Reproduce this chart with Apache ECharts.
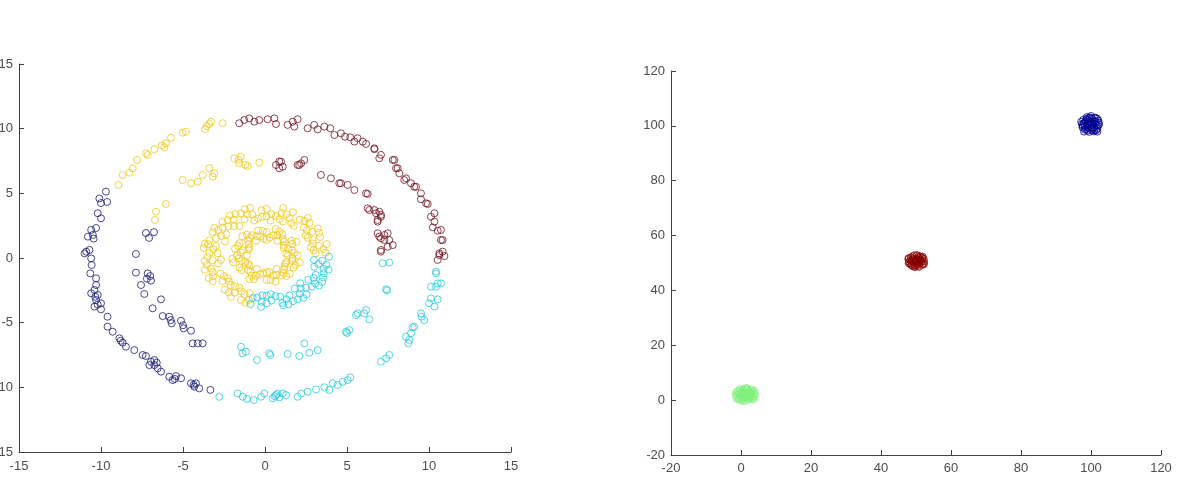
<!DOCTYPE html>
<html>
<head>
<meta charset="utf-8">
<script src="https://cdn.jsdelivr.net/npm/echarts@6/dist/echarts.min.js"></script>
<style>
  html, body { margin: 0; padding: 0; background: #fff; }
  #chart { width: 1182px; height: 497px; }
</style>
</head>
<body>
<div id="chart"></div>
<script>
// left panel: four clusters of ring data
const navyPts = [
  [-9.70,5.13],[-10.0,4.25],[-9.63,4.33],[-10.1,4.6],[-10.2,3.46],[-10.0,3.07],[-10.6,2.17],[-10.3,2.32],[-10.8,1.65],[-10.5,1.78],[-10.45,1.5],
  [-10.9,0.49],[-10.7,0.62],[-11.0,0.36],[-10.6,-0.03],[-10.57,-0.54],[-10.65,-1.19],[-10.3,-1.57],[-10.3,-2.09],[-10.4,-2.47],[-10.6,-2.73],
  [-10.2,-2.86],[-10.35,-3.0],[-10.3,-3.25],[-10.0,-3.5],[-10.2,-3.6],[-10.4,-3.76],[-10.0,-3.97],[-9.6,-4.54],[-9.6,-5.31],[-9.29,-5.7],
  [-8.88,-6.21],[-8.8,-6.4],[-8.68,-6.55],[-8.48,-6.86],[-7.97,-7.12],[-7.46,-7.5],[-7.26,-7.58],[-6.95,-8.02],[-6.75,-8.28],[-7.05,-8.28],
  [-6.6,-8.1],[-6.54,-8.53],[-6.34,-8.79],[-6.75,-7.89],[-5.84,-9.18],[-5.63,-9.44],[-5.5,-9.35],[-5.43,-9.13],[-5.12,-9.3],[-4.51,-9.69],
  [-4.31,-9.95],[-4.35,-9.8],[-4.21,-9.69],[-4.01,-10.08],[-3.33,-10.2],
  [-7.26,1.93],[-6.77,2.0],[-7.07,1.55],[-7.87,0.31],[-7.87,-1.13],[-7.15,-1.19],[-7.0,-1.4],[-7.2,-1.6],[-6.95,-1.75],[-7.56,-2.09],
  [-7.36,-2.78],[-6.34,-3.2],[-6.85,-3.89],[-6.24,-4.49],[-5.84,-4.54],[-5.75,-4.8],[-5.69,-5.05],[-5.12,-4.85],[-5.0,-5.2],[-4.96,-5.44],
  [-4.51,-5.62],[-4.41,-6.6],[-4.1,-6.6],[-3.8,-6.6]
];
const yellowPts = [
  [-8.94,5.65],[-8.68,6.42],[-8.27,6.6],[-8.07,6.93],[-7.8,7.58],[-7.25,8.1],[-7.15,7.97],[-6.75,8.41],[-6.3,8.7],[-6.14,8.56],[-6.04,8.87],
  [-5.73,9.3],[-5.02,9.69],[-4.82,9.77],[-3.66,9.95],[-3.55,10.2],[-3.4,10.36],[-3.29,10.54],[-2.58,10.42],
  [-1.87,7.71],[-1.6,7.6],[-1.46,7.84],[-1.57,7.32],[-1.2,7.2],[-1.05,7.11],[-0.35,7.37],[-5.02,6.03],[-4.51,5.78],[-4.1,5.9],[-3.8,6.42],
  [-3.4,6.94],[-3.09,6.55],[-3.19,6.29],[-6.65,3.58],[-6.04,4.18],[-6.71,2.94],
  // ring r~3.3
  [3.09,0.36],[3.69,0.41],[3.29,0.95],[2.80,0.83],[3.77,1.08],[2.91,1.41],[3.36,1.62],[2.88,2.05],[2.48,1.76],[3.21,2.28],[2.36,2.36],
  [2.72,2.72],[2.11,2.97],[1.76,2.48],[1.50,3.09],[1.71,3.54],[0.88,3.0],[1.01,3.48],[1.11,3.87],[0.39,3.39],[0.34,2.89],[-0.21,3.69],
  [-0.17,3.19],[-0.78,3.38],[-0.91,3.87],[-0.65,2.90],[-1.25,3.0],[-1.47,3.45],[-1.91,2.97],[-1.56,2.48],[-2.14,3.29],[-2.23,2.43],
  [-2.59,2.79],[-2.36,1.82],[-2.85,2.17],[-3.09,2.34],[-2.98,1.54],[-2.44,1.28],[-3.47,1.06],[-2.99,0.93],[-3.67,1.11],[-2.89,0.36],
  [-3.39,0.40],[-3.68,-0.23],[-3.19,-0.19],[-2.69,-0.14],[-3.28,-0.81],[-3.67,-0.91],[-2.71,-1.21],[-3.16,-1.42],[-3.43,-1.55],
  [-2.60,-1.79],[-2.28,-1.56],[-2.45,-2.45],[-2.09,-2.09],[-1.85,-2.68],[-2.08,-3.01],[-1.56,-2.28],[-1.25,-2.80],[-1.47,-3.25],[-0.98,-3.23],
  [3.55,0.71],[2.92,1.13],[3.30,1.95],[2.55,2.16],[2.41,2.86],[1.60,2.70],[1.30,3.39],[0.66,3.25],[0.10,3.80],[-0.42,3.06],[-1.10,3.39],
  [-1.80,3.39],[-1.89,2.47],[-2.58,2.35],[-2.67,1.70],[-3.38,1.37],[-3.15,0.67],[-3.50,0.10],[-2.86,-0.42],[-3.19,-1.10],[-3.19,-1.80],
  [-2.20,-1.83],[-2.21,-2.66],[-1.45,-2.58],[-1.20,-3.47],
  [2.96,0.60],[2.61,1.55],[2.61,3.09],[1.09,2.83],[0.10,3.20],[-1.23,3.77],[-2.28,2.93],[-3.19,2.0],[-3.74,0.78],[-3.54,-0.54],
  [-2.50,-1.40],[-1.83,-2.20],[-0.93,-2.72],
  // inner ring r~1.6
  [1.4,0.2],[2.0,0.2],[1.65,0.61],[1.14,0.8],[1.66,1.1],[1.92,1.25],[1.16,1.26],[0.75,1.33],[1.05,1.85],[0.51,1.75],[0.64,2.23],
  [0.1,1.4],[0.1,2.0],[-0.29,1.65],[-0.42,2.13],[-0.55,1.33],[-0.8,1.76],[-1.03,1.33],[-1.38,1.68],[-0.94,0.8],[-1.55,1.15],[-1.35,0.59],
  [-1.83,0.72],[-1.1,0.2],[-1.7,0.2],[-1.45,-0.21],[-1.93,-0.34],[-1.03,-0.45],[-1.55,-0.75],[-1.03,-0.93],[-0.5,-0.84],[-0.8,-1.36],
  [-0.95,-1.62],[-0.29,-1.25],[0.1,-1.1],[0.1,-1.7],[0.51,-1.35],[0.64,-1.83],[0.7,-0.84],[1.0,-1.36],[1.16,-0.86],[1.51,-1.21],
  [1.23,-0.45],[1.75,-0.75],[1.65,-0.21],[2.13,-0.34],
  [1.79,0.41],[1.40,0.73],[1.62,1.34],[1.09,1.46],[0.76,1.77],[0.29,1.59],[-0.13,2.09],[-0.50,1.68],[-0.92,1.56],[-1.00,1.06],[-1.65,0.94],
  [-1.48,0.42],[-1.59,-0.01],[-1.20,-0.33],[-1.42,-0.94],[-0.89,-1.06],[-0.56,-1.37],[-0.09,-1.19],[0.33,-1.69],[0.70,-1.28],[1.12,-1.16],
  [1.20,-0.66],[1.85,-0.54],[1.68,-0.02],
  [1.29,0.35],[1.14,0.98],[0.88,2.04],[-0.06,1.49],[-1.10,1.80],[-1.01,0.67],[-1.99,-0.06],[-0.94,-0.58],[-0.68,-1.64],[0.26,-1.09],
  [1.30,-1.40],[1.30,-0.31]
];
const cyanPts = [
  [-0.75,-3.09],[-0.88,-3.57],[-0.16,-2.89],[-0.20,-3.39],[-0.24,-3.78],[0.40,-3.29],[0.35,-2.79],[1.06,-3.47],[0.93,-2.99],[1.11,-3.67],
  [1.50,-2.89],[1.71,-3.34],[1.82,-2.36],[2.11,-2.77],[2.34,-3.09],[2.50,-2.30],[2.15,-1.95],[3.05,-1.97],[2.64,-1.68],[3.29,-2.14],
  [3.09,-1.30],[3.54,-1.51],[3.0,-0.68],[3.58,-0.83],[3.87,-0.91],[3.49,-0.20],[2.99,-0.15],
  [-0.46,-3.05],[0.10,-3.50],[0.64,-2.95],[1.30,-3.19],[2.0,-3.19],[2.16,-2.35],[2.86,-2.21],[2.96,-1.55],[3.58,-1.17],[3.25,-0.46],[3.90,0.10],
  [0.10,-2.90],[1.43,-3.57],[2.54,-2.81],[3.48,-1.85],[3.74,-0.54],
  [-1.46,-6.86],[-1.16,-7.25],[-1.37,-7.37],[-0.49,-7.89],[0.26,-7.37],[0.32,-7.5],[1.38,-7.42],[2.09,-7.58],[2.4,-6.6],[2.7,-7.33],
  [3.21,-7.12],[4.94,-5.7],[5.14,-5.57],[5.0,-5.8],[5.55,-4.41],[5.65,-4.28],[6.05,-4.28],[6.36,-4.74],[6.16,-4.02],[7.17,-0.41],
  [7.58,-0.36],[7.38,-2.42],[7.44,-2.5],
  [-2.79,-10.73],[-1.67,-10.47],[-1.36,-10.73],[-1.1,-10.9],[-0.69,-10.98],[-0.24,-10.73],[-0.04,-10.47],[0.47,-10.85],[0.67,-10.6],
  [0.87,-10.78],[1.08,-10.47],[1.28,-10.6],[0.6,-10.7],[0.75,-10.5],[1.99,-10.73],[2.2,-10.47],[2.6,-10.34],[3.11,-10.16],[3.62,-10.0],
  [3.92,-10.2],[4.13,-9.69],[4.43,-9.82],[4.74,-9.57],[5.04,-9.44],[5.2,-9.23],[7.07,-8.02],[7.38,-7.76],[7.58,-7.5],[8.6,-6.08],
  [8.9,-5.82],[8.8,-6.34],[9.1,-5.31],[8.74,-6.6],[9.0,-5.36],[9.51,-4.28],[9.71,-4.8],[9.55,-4.54],[10.0,-3.5],[10.33,-3.76],
  [10.12,-3.12],[10.53,-3.2],[10.12,-2.22],[10.43,-2.22],[10.53,-1.96],[10.73,-1.96],[10.43,-1.06],[10.43,-1.19]
];
const maroonPts = [
  [-1.57,10.42],[-1.26,10.67],[-0.96,10.8],[-0.65,10.54],[-0.35,10.67],[0.16,10.73],[0.57,10.8],[0.67,10.36],[1.38,10.29],[1.69,10.54],
  [1.99,10.73],[1.79,10.16],[2.6,10.03],[3.0,10.29],[3.21,9.95],[3.62,10.16],[3.98,10.03],[4.23,9.51],[4.63,9.64],[4.88,9.38],[5.2,9.33],
  [5.65,9.26],[5.45,9.0],[5.96,9.0],[6.16,8.82],[6.67,8.41],[6.67,8.48],[7.07,7.97],[6.97,7.71],[7.79,7.58],[7.89,7.58],[7.99,6.94],
  [8.09,6.94],[8.19,6.55],[8.49,6.03],[8.6,6.16],[8.9,5.78],[9.1,5.51],[9.21,5.51],[9.51,5.0],[9.51,4.54],[9.82,4.23],[9.92,4.18],
  [10.12,3.19],[10.33,3.46],[10.33,2.81],[10.23,2.37],[10.53,2.11],[10.73,2.17],[10.73,1.39],[10.83,1.39],[10.63,0.23],[10.94,0.15],
  [10.83,0.49],[10.53,-0.15],[10.63,0.36],
  [0.67,7.19],[1.08,7.06],[0.87,7.46],[0.98,7.45],[0.87,6.94],[1.99,7.19],[2.2,7.32],[2.4,7.58],[2.09,7.19],[3.41,6.42],[4.02,6.16],
  [4.53,5.78],[4.63,5.78],[5.04,5.65],[5.45,5.26],[6.16,5.0],[6.26,4.95],[6.26,3.84],[6.36,3.71],[6.67,3.71],[6.97,3.58],[6.77,3.46],
  [7.07,3.19],[7.07,3.33],[6.87,2.94],[6.87,2.81],[6.87,1.91],[6.97,1.65],[7.28,1.78],[7.07,1.52],[7.28,1.39],[7.58,1.39],[7.48,1.91],
  [7.79,1.0],[7.48,0.87],[7.07,0.49],[7.07,0.62]
];

// right panel: three tight blobs
const greenPts = [
  [-0.3,2.5],[0.5,3.6],[1.7,4.0],[2.8,3.2],[3.6,2.0],[3.1,0.8],[2.0,0.2],[0.7,0.0],[-0.5,0.9],[-1.3,2.0],[-0.9,3.3],[0.3,1.6],
  [1.4,2.6],[2.3,1.9],[1.0,1.0],[0.0,2.9],[2.4,3.8],[3.4,3.0],[3.9,1.4],[2.5,0.5],[1.3,-0.2],[-0.1,0.3],[-1.1,1.2],[-1.5,2.6],
  [-0.4,4.0],[1.1,4.4],[2.1,3.0],[2.9,2.4],[1.5,1.4],[0.5,2.2],[-0.3,1.8],[1.8,4.3],[3.2,3.8],[4.0,2.4],[3.5,0.3],[0.4,-0.3],
  [-0.7,0.2],[0.8,3.0],[1.7,2.1],[2.6,1.2],[-1.4,0.7],[3.8,3.4],[1.2,3.7],
  [0.0,1.2],[0.9,2.6],[1.9,3.4],[2.7,2.7],[3.0,1.6],[1.8,0.8],[0.6,0.6],[-0.6,2.4],[0.3,3.8],[2.2,1.2],[3.7,0.9],[-1.0,3.0]
];
const redPts = [
  [48.0,50.5],[48.5,52.0],[49.5,52.8],[50.8,52.6],[51.8,51.8],[52.3,50.6],[51.9,49.3],[50.9,48.6],[49.7,48.5],[48.6,49.2],[48.9,51.2],
  [50.0,51.6],[51.0,50.9],[50.4,49.6],[49.3,50.2],[49.9,50.6],[51.3,52.3],[52.0,49.8],[47.8,51.4],[48.3,49.8],[50.5,48.9],[51.5,50.2],
  [49.0,52.4],[50.2,52.9],[49.6,49.3],[50.8,51.6],[48.8,50.8],[51.7,51.1],[50.0,50.0],[49.1,48.8],[52.2,51.5],[47.9,50.0],
  [48.4,51.0],[49.3,51.7],[50.6,52.1],[51.4,50.6],[50.9,49.6],[49.8,49.0],[48.8,49.7],[49.6,51.0],[51.1,51.3],[50.4,50.4],
  [47.9,51.8],[51.9,52.3],[52.3,49.7]
];
const bluePts = [
  [97.4,100.6],[97.8,102.2],[98.8,103.2],[100.0,103.6],[101.3,103.0],[102.1,101.9],[102.3,100.5],[101.8,99.0],[100.8,98.0],[99.5,97.8],
  [98.3,98.6],[98.2,100.0],[99.2,101.5],[100.5,102.1],[101.1,100.8],[100.2,99.5],[99.0,99.3],[99.8,100.7],[100.9,99.4],[98.7,102.6],
  [101.8,102.6],[97.2,101.5],[97.6,99.4],[99.1,98.3],[100.3,98.3],[101.5,98.4],[102.0,100.0],[99.5,102.9],[100.6,101.6],[98.9,100.4],
  [101.3,101.5],[99.7,99.0],[98.3,101.3],[100.0,100.2],[101.8,97.9],[98.0,97.9],
  [98.5,101.8],[99.6,103.0],[100.9,102.9],[101.6,100.2],[100.4,99.0],[98.9,99.6],[97.9,100.9],[99.3,100.0],[100.7,100.3],[101.0,98.6],
  [99.9,101.4],[98.6,98.9],[102.2,101.2],[100.2,102.8],[99.0,102.2],[97.6,100.0]
];

const leftTicks = { min: -15, max: 15, interval: 5 };
const rightTicks = { min: -20, max: 120, interval: 20 };

const axisColor = '#404040';
const labelStyle = { color: '#4d4d4d', fontSize: 13, fontFamily: 'Liberation Sans, Arial, sans-serif' };

function axis(gridIndex, ticks, margin) {
  return {
    type: 'value',
    gridIndex,
    min: ticks.min,
    max: ticks.max,
    interval: ticks.interval,
    axisLine: { show: true, onZero: false, lineStyle: { color: axisColor, width: 1 } },
    axisTick: { show: true, inside: true, length: 5, lineStyle: { color: axisColor } },
    splitLine: { show: false },
    axisLabel: { ...labelStyle, margin, showMinLabel: true, showMaxLabel: true }
  };
}

function ring(data, color, xi) {
  return {
    type: 'scatter',
    xAxisIndex: xi,
    yAxisIndex: xi,
    data,
    symbol: 'circle',
    symbolSize: 7,
    itemStyle: { color: 'rgba(255,255,255,0)', borderColor: color, borderWidth: 1 },
    emphasis: { disabled: true }
  };
}

const chart = echarts.init(document.getElementById('chart'));
chart.setOption({
  animation: false,
  backgroundColor: '#ffffff',
  grid: [
    { left: 19, top: 64, width: 492, height: 388, outerBoundsMode: 'none', containLabel: false },
    { left: 671, top: 71, width: 490, height: 384, outerBoundsMode: 'none', containLabel: false }
  ],
  xAxis: [axis(0, leftTicks, 8), axis(1, rightTicks, 7)],
  yAxis: [axis(0, leftTicks, 6), axis(1, rightTicks, 6)],
  series: [
    ring(navyPts, '#1a1a75', 0),
    ring(yellowPts, '#f0c814', 0),
    ring(cyanPts, '#26cbe3', 0),
    ring(maroonPts, '#761424', 0),
    ring(greenPts, '#7ef07a', 1),
    ring(redPts, '#840000', 1),
    ring(bluePts, '#00008f', 1)
  ]
});
</script>
</body>
</html>
